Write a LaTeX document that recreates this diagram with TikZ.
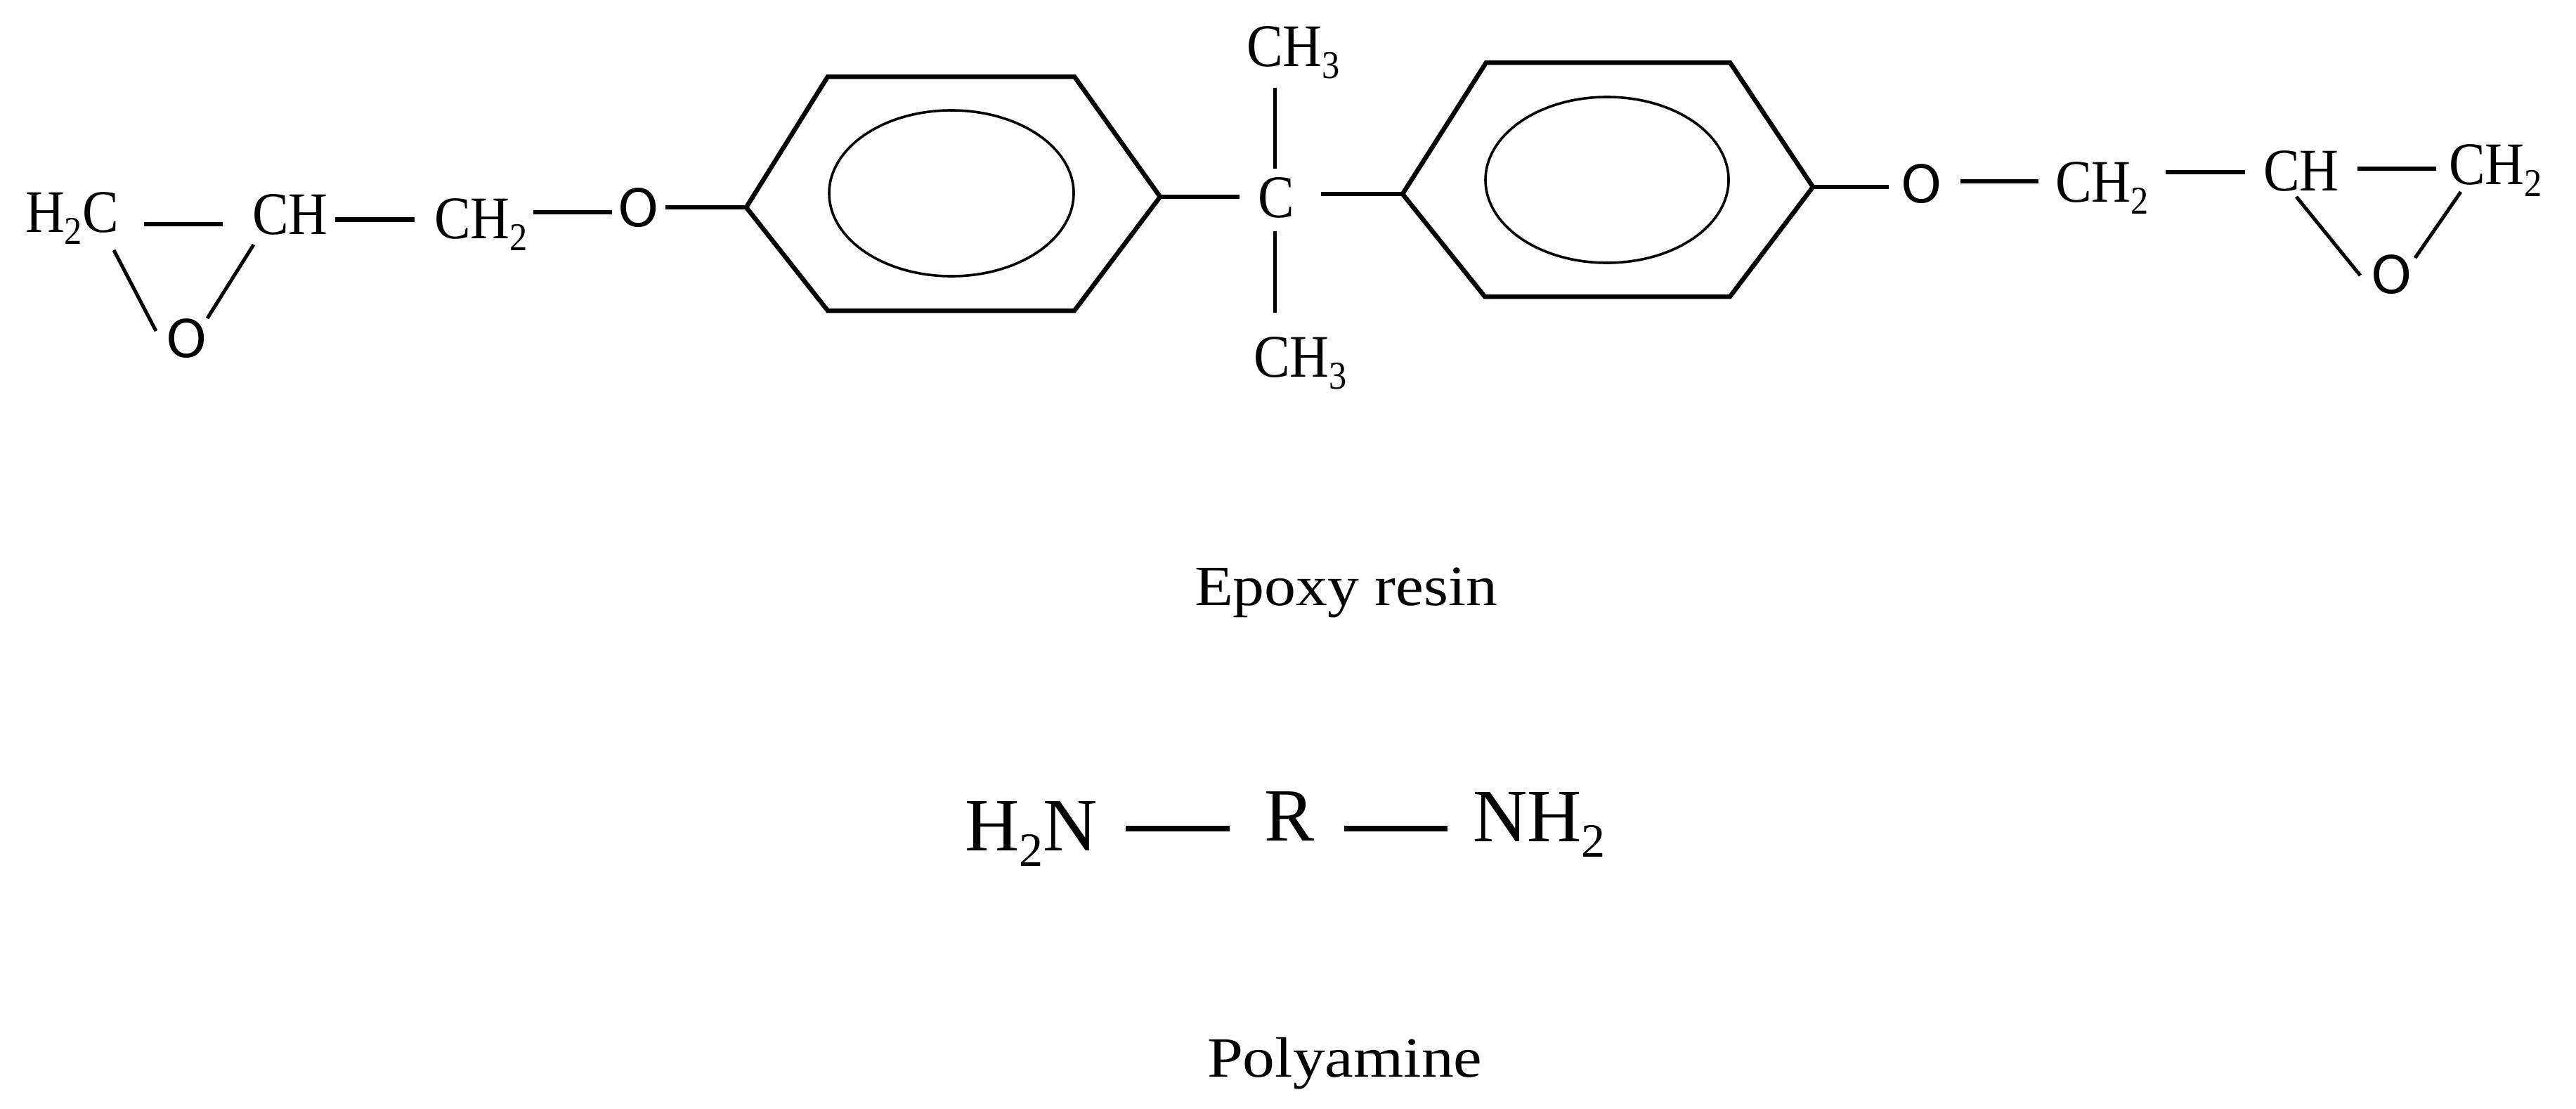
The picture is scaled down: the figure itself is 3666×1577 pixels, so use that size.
\documentclass[tikz,border=0pt]{standalone}
\usepackage{fontspec}
\usepackage{graphicx}
\setmainfont{Liberation Serif}
\newfontfamily\oxfont{DejaVu Sans}
\newcommand{\subchem}{\raisebox{-17pt}{\fontsize{56}{56}\selectfont 2}}
\newcommand{\subthree}{\raisebox{-17pt}{\fontsize{56}{56}\selectfont 3}}
\newcommand{\subpoly}{\raisebox{-22pt}{\fontsize{68}{68}\selectfont 2}}
\newcommand{\chemtxt}[1]{\scalebox{0.9}[1]{\fontsize{86}{90}\selectfont #1}}
\newcommand{\polytxt}[1]{\fontsize{107}{110}\selectfont #1}
\tikzset{
  chem/.style={inner sep=0pt,outer sep=0pt,anchor=base west,font=\fontsize{86}{90}\selectfont},
  oxy/.style={inner sep=0pt,outer sep=0pt,anchor=center,font=\oxfont\fontsize{74}{78}\selectfont},
  poly/.style={inner sep=0pt,outer sep=0pt,anchor=base west},
  capt/.style={inner sep=0pt,outer sep=0pt,anchor=base west,font=\fontsize{81}{85}\selectfont},
  bond/.style={line width=6.5pt,draw=black},
  thinbond/.style={line width=5pt,draw=black},
  polybond/.style={line width=7.5pt,draw=black},
  ringline/.style={line width=6.5pt,draw=black,line join=miter},
  ringcircle/.style={line width=3.6pt,draw=black}
}
\begin{document}
\begin{tikzpicture}[x=1pt,y=-1pt]
\useasboundingbox (0,0) rectangle (3666,1577);
% atoms, left part
\node[chem] (h2c) at (36,330) {\chemtxt{H\subchem C}};
\node[chem] (ch1) at (359,333) {\chemtxt{CH}};
\node[chem] (ch2a) at (618,339) {\chemtxt{CH\subchem}};
\node[oxy] (o1) at (909,296) {O};
\node[oxy] (o2) at (266,482) {O};
% centre
\node[chem] (c) at (1790,309) {\chemtxt{C}};
\node[chem] (me3t) at (1774,94) {\chemtxt{CH\subthree}};
\node[chem] (me3b) at (1784,536) {\chemtxt{CH\subthree}};
% right part
\node[oxy] (o3) at (2734.5,262) {O};
\node[chem] (ch2b) at (2925,287.5) {\chemtxt{CH\subchem}};
\node[chem] (ch3) at (3221,271) {\chemtxt{CH}};
\node[chem] (ch2c) at (3485,262) {\chemtxt{CH\subchem}};
\node[oxy] (o4) at (3404,391) {O};
% rings
\coordinate (r1l) at (1062,295);
\coordinate (r1tl) at (1178,109);
\coordinate (r1tr) at (1529,109);
\coordinate (r1r) at (1651,280);
\coordinate (r1br) at (1529,442);
\coordinate (r1bl) at (1178,442);
\coordinate (r2l) at (1996,276);
\coordinate (r2tl) at (2115,89);
\coordinate (r2tr) at (2462,89);
\coordinate (r2r) at (2580,266);
\coordinate (r2br) at (2462,422);
\coordinate (r2bl) at (2113,422);
\draw[ringline] (r1l) -- (r1tl) -- (r1tr) -- (r1r) -- (r1br) -- (r1bl) -- cycle;
\draw[ringline] (r2l) -- (r2tl) -- (r2tr) -- (r2r) -- (r2br) -- (r2bl) -- cycle;
\draw[ringcircle] (1354,275) ellipse [x radius=174pt,y radius=118pt];
\draw[ringcircle] (2287,256) ellipse [x radius=173pt,y radius=118pt];
% bonds left
\draw[bond] ([shift={(169,-11)}]h2c.base west) -- ([shift={(-42,-14)}]ch1.base west);
\draw[bond] ([shift={(118,-20.5)}]ch1.base west) -- ([shift={(-28,-26.5)}]ch2a.base west);
\draw[bond] ([shift={(141,-37)}]ch2a.base west) -- ([shift={(-38,6)}]o1.center);
\draw[bond] ([shift={(38,-1)}]o1.center) -- (r1l);
\draw[thinbond] ([shift={(126,26)}]h2c.base west) -- ([shift={(-44,-11)}]o2.center);
\draw[thinbond] ([shift={(2,15)}]ch1.base west) -- ([shift={(29,-29)}]o2.center);
% bonds centre
\draw[bond] (r1r) -- ([shift={(-26,-29)}]c.base west);
\draw[bond] ([shift={(90,-33)}]c.base west) -- (r2l);
\draw[thinbond] ([shift={(24,-69)}]c.base west) -- ([shift={(40,31)}]me3t.base west);
\draw[thinbond] ([shift={(24,20)}]c.base west) -- ([shift={(30,-91)}]me3b.base west);
% bonds right
\draw[bond] (r2r) -- ([shift={(-46.5,4)}]o3.center);
\draw[bond] ([shift={(55.5,-4)}]o3.center) -- ([shift={(-24,-29.5)}]ch2b.base west);
\draw[bond] ([shift={(157,-42.5)}]ch2b.base west) -- ([shift={(-26,-26)}]ch3.base west);
\draw[bond] ([shift={(134,-31)}]ch3.base west) -- ([shift={(-18,-22)}]ch2c.base west);
\draw[thinbond] ([shift={(47,9)}]ch3.base west) -- ([shift={(-45,1)}]o4.center);
\draw[thinbond] ([shift={(17,11)}]ch2c.base west) -- ([shift={(33,-24)}]o4.center);
% captions
\node[capt] (epoxy) at (1700,861) {\scalebox{1.108}[1]{Epoxy resin}};
\node[capt] (polyam) at (1718,1532) {\scalebox{1.13}[1]{Polyamine}};
% polyamine formula
\node[poly] (h2n) at (1373,1210) {\polytxt{H\subpoly N}};
\node[poly] (rgroup) at (1799,1196) {\polytxt{R}};
\node[poly] (nh2) at (2096,1197) {\polytxt{NH\subpoly}};
\draw[polybond] ([shift={(229,-31)}]h2n.base west) -- ([shift={(-49,-17)}]rgroup.base west);
\draw[polybond] ([shift={(114,-17)}]rgroup.base west) -- ([shift={(-36,-18)}]nh2.base west);
\end{tikzpicture}
\end{document}
